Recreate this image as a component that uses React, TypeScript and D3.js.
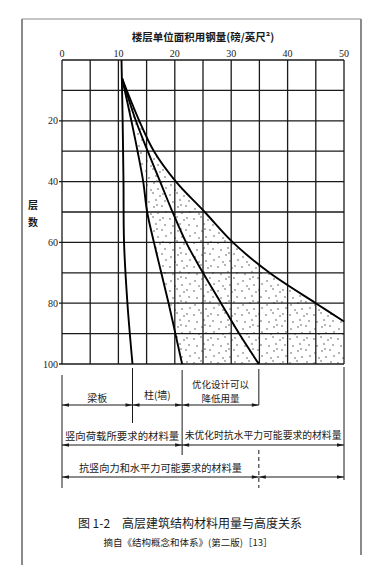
import React from "react";
import * as d3 from "d3";

// ---- data (x: steel per floor area, lb/ft^2 ; y: number of storeys) ----
const X_TICKS = [0, 10, 20, 30, 40, 50];
const X_GRID = [0, 5, 10, 15, 20, 25, 30, 35, 40, 45, 50];
const Y_GRID = [0, 10, 20, 30, 40, 50, 60, 70, 80, 90, 100];
const Y_TICKS = [20, 40, 60, 80, 100];

const FLOORS_BEAM = [0, 20, 40, 60, 80, 100];
const BEAM = [10.55, 10.75, 10.9, 11.0, 11.6, 12.5];

const FLOORS_FRAME = [6, 20, 30, 40, 50, 60, 70, 80, 90, 100];
const COLUMN = [10.65, 12.3, 13.4, 14.4, 15.1, 16.3, 17.6, 18.9, 20.1, 21.3];
const OPTIMIZED = [10.65, 13.1, 15.2, 17.4, 19.6, 22.0, 25.0, 28.2, 31.4, 34.9];

const FLOORS_UNOPT = [6, 20, 30, 40, 50, 60, 70, 80, 86];
const UNOPTIMIZED = [10.65, 13.7, 16.3, 20.2, 25.3, 30.3, 36.8, 45.0, 50];

const TITLE = "楼层单位面积用钢量(磅/英尺²)";
const Y_LABEL = ["层", "数"];
const LABEL_BEAM = "梁板";
const LABEL_COLUMN = "柱(墙)";
const LABEL_OPT = ["优化设计可以", "降低用量"];
const LABEL_VERTICAL = "竖向荷载所要求的材料量";
const LABEL_UNOPT = "未优化时抗水平力可能要求的材料量";
const LABEL_TOTAL = "抗竖向力和水平力可能要求的材料量";
const CAPTION = "图 1-2　高层建筑结构材料用量与高度关系";
const SOURCE = "摘自《结构概念和体系》(第二版)［13］";

const W = 379;
const H = 588;
const CJK = "'Noto Sans CJK SC', 'Noto Sans', sans-serif";
const SERIF = "'Liberation Serif', 'DejaVu Serif', serif";
const INK = "#1a1a1a";

// stipple dot positions inside a pattern tile (purely decorative texture)
const DOTS: [number, number][] = [
  [2, 3], [9, 1], [16, 4], [21, 9], [5, 10], [12, 8], [18, 14],
  [3, 17], [10, 15], [14, 21], [22, 20], [7, 22], [19, 2], [13, 13],
];

function Arrow({ x1, x2, y }: { x1: number; x2: number; y: number }) {
  const L = 7;
  const hw = 1.8;
  return (
    <g>
      <line x1={x1} x2={x2} y1={y} y2={y} stroke={INK} strokeWidth={1} />
      <path d={`M${x1},${y} L${x1 + L},${y - hw} L${x1 + L},${y + hw} Z`} fill={INK} />
      <path d={`M${x2},${y} L${x2 - L},${y - hw} L${x2 - L},${y + hw} Z`} fill={INK} />
    </g>
  );
}

export default function App() {
  const x = d3.scaleLinear().domain([0, 50]).range([62, 344]);
  const y = d3.scaleLinear().domain([0, 100]).range([60, 364]);

  const line = d3
    .line<[number, number]>()
    .x((d) => x(d[0]))
    .y((d) => y(d[1]))
    .curve(d3.curveCatmullRom.alpha(0.5));

  const beamPts = FLOORS_BEAM.map((f, i) => [BEAM[i], f] as [number, number]);
  const colPts = FLOORS_FRAME.map((f, i) => [COLUMN[i], f] as [number, number]);
  const optPts = FLOORS_FRAME.map((f, i) => [OPTIMIZED[i], f] as [number, number]);
  const unoptPts = FLOORS_UNOPT.map((f, i) => [UNOPTIMIZED[i], f] as [number, number]);

  const colPath = line(colPts) as string;
  const unoptRev = (line([...unoptPts].reverse()) as string).replace(/^M/, "L");
  const stipplePath =
    colPath +
    ` L${x(50)},${y(100)} L${x(50)},${y(FLOORS_UNOPT[FLOORS_UNOPT.length - 1])} ` +
    unoptRev +
    " Z";

  const x0 = x(0);
  const xBeam = x(BEAM[BEAM.length - 1]);
  const xCol = x(COLUMN[COLUMN.length - 1]);
  const xOpt = x(OPTIMIZED[OPTIMIZED.length - 1]);
  const x50 = x(50);

  const row1 = 405;
  const row2 = 445;
  const row3 = 477;

  return (
    <svg
      width={W}
      height={H}
      viewBox={`0 0 ${W} ${H}`}
      style={{ position: "absolute", left: 0, top: 0, background: "#fff" }}
    >
      <defs>
        <pattern id="stipple" width={24} height={24} patternUnits="userSpaceOnUse">
          {DOTS.map(([px, py], i) => (
            <circle key={i} cx={px} cy={py} r={0.7} fill="#333" />
          ))}
        </pattern>
      </defs>

      {/* page frame */}
      <line x1={22} x2={361} y1={19} y2={19} stroke="#8a8a8a" strokeWidth={1} />
      <line x1={22} x2={22} y1={19} y2={565} stroke="#8a8a8a" strokeWidth={2} />
      <line x1={361} x2={361} y1={19} y2={555} stroke="#8a8a8a" strokeWidth={2} />

      {/* title */}
      <text
        x={x(25)}
        y={36}
        textAnchor="middle"
        dominantBaseline="central"
        fontFamily={CJK}
        fontSize={10.5}
        fontWeight="bold"
        fill={INK}
      >
        {TITLE}
      </text>

      {/* stippled area */}
      <path d={stipplePath} fill="url(#stipple)" stroke="none" />

      {/* grid */}
      {X_GRID.map((v) => (
        <line key={"vx" + v} x1={x(v)} x2={x(v)} y1={y(0)} y2={y(100)} stroke={INK} strokeWidth={1.3} />
      ))}
      {Y_GRID.map((v) => (
        <line
          key={"hy" + v}
          x1={Y_TICKS.includes(v) ? x(0) - 3 : x(0)}
          x2={x(50)}
          y1={y(v)}
          y2={y(v)}
          stroke={INK}
          strokeWidth={1.3}
        />
      ))}

      {/* x tick labels */}
      {X_TICKS.map((v) => (
        <text key={"tx" + v} x={x(v)} y={57} textAnchor="middle" fontFamily={SERIF} fontSize={10} fill={INK}>
          {v}
        </text>
      ))}
      {/* y tick labels */}
      {Y_TICKS.map((v) => (
        <text
          key={"ty" + v}
          x={x(0) - 4}
          y={y(v)}
          textAnchor="end"
          dominantBaseline="central"
          fontFamily={SERIF}
          fontSize={10}
          fill={INK}
        >
          {v}
        </text>
      ))}
      {Y_LABEL.map((t, i) => (
        <text
          key={"yl" + i}
          x={33}
          y={204 + i * 17}
          textAnchor="middle"
          dominantBaseline="central"
          fontFamily={CJK}
          fontSize={10}
          fontWeight="bold"
          fill={INK}
        >
          {t}
        </text>
      ))}

      {/* curves */}
      {[beamPts, colPts, optPts, unoptPts].map((pts, i) => (
        <path key={"c" + i} d={line(pts) as string} fill="none" stroke="#000" strokeWidth={1.9} />
      ))}

      {/* annotation vertical guides */}
      <line x1={x0} x2={x0} y1={375} y2={488} stroke={INK} strokeWidth={1} />
      <line x1={xBeam} x2={xBeam} y1={368} y2={423} stroke={INK} strokeWidth={1} />
      <line x1={xCol} x2={xCol} y1={370} y2={455} stroke={INK} strokeWidth={1} />
      <line x1={xOpt} x2={xOpt} y1={369} y2={405} stroke={INK} strokeWidth={1} />
      <line x1={x50} x2={x50} y1={367} y2={480} stroke={INK} strokeWidth={1} />
      <line x1={xOpt} x2={xOpt} y1={450} y2={488} stroke={INK} strokeWidth={1} strokeDasharray="4,3" />

      {/* arrows */}
      <Arrow x1={x0} x2={xBeam} y={row1} />
      <Arrow x1={xBeam} x2={xCol} y={row1} />
      <Arrow x1={xCol} x2={xOpt} y={row1} />
      <Arrow x1={x0} x2={xCol} y={row2} />
      <Arrow x1={xCol} x2={x50} y={row2} />
      <Arrow x1={x0} x2={xOpt} y={row3} />
      <Arrow x1={xOpt} x2={x50} y={row3} />

      {/* annotation text */}
      <g fontFamily={CJK} fontSize={10} fill={INK} textAnchor="middle" dominantBaseline="central">
        <text x={(x0 + xBeam) / 2} y={397.5}>{LABEL_BEAM}</text>
        <text x={(xBeam + xCol) / 2} y={394.5}>{LABEL_COLUMN}</text>
        <text x={(xCol + xOpt) / 2} y={384} fontSize={9.5}>{LABEL_OPT[0]}</text>
        <text x={(xCol + xOpt) / 2} y={398} fontSize={9.5}>{LABEL_OPT[1]}</text>
        <text x={(x0 + xCol) / 2} y={435} fontSize={10.4}>{LABEL_VERTICAL}</text>
        <text x={(xCol + x50) / 2} y={435} fontSize={9.8}>{LABEL_UNOPT}</text>
        <text x={(x0 + xOpt) / 2} y={467} fontSize={10.2}>{LABEL_TOTAL}</text>
      </g>

      {/* caption */}
      <text x={190} y={522} textAnchor="middle" dominantBaseline="central" fontFamily={CJK} fontSize={12} fill={INK}>
        {CAPTION}
      </text>
      <text x={188} y={542} textAnchor="middle" dominantBaseline="central" fontFamily={CJK} fontSize={9.5} fill={INK}>
        {SOURCE}
      </text>
    </svg>
  );
}
